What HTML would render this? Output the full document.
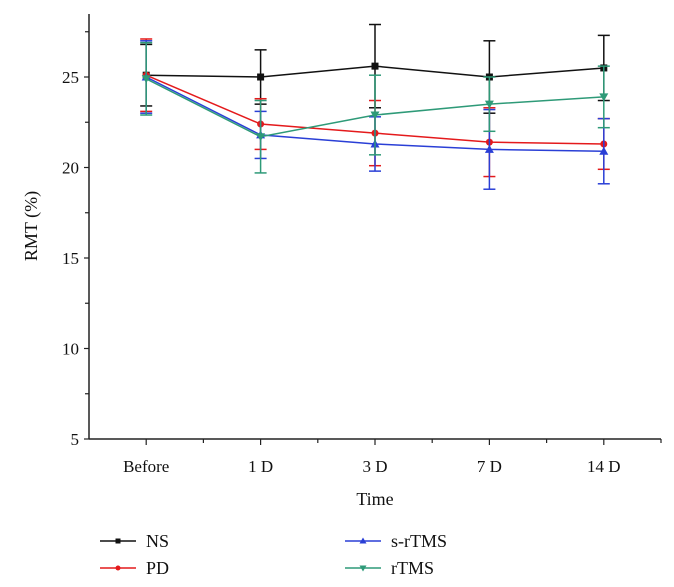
<!DOCTYPE html>
<html><head><meta charset="utf-8"><style>
body{margin:0;background:#fff}
svg{display:block;font-family:"Liberation Serif",serif}
</style></head><body>
<svg id="chart" width="674" height="587">
<g id="axes"></g><g id="series"></g><g id="legend"></g>
</svg>
<script>
const categories=["Before","1 D","3 D","7 D","14 D"];
const yTicks=[5,10,15,20,25];
const seriesNames=["NS","PD","s-rTMS","rTMS"];
const nsValues=[25.1,25.0,25.6,25.0,25.5];
const nsErr=[1.7,1.5,2.3,2.0,1.8];
const pdValues=[25.1,22.4,21.9,21.4,21.3];
const pdErr=[2.0,1.4,1.8,1.9,1.4];
const srtmsValues=[25.0,21.8,21.3,21.0,20.9];
const srtmsErr=[2.0,1.3,1.5,2.2,1.8];
const rtmsValues=[24.9,21.7,22.9,23.5,23.9];
const rtmsErr=[2.0,2.0,2.2,1.5,1.7];

const NS="http://www.w3.org/2000/svg";
const X0=89,X1=661,Y0=439,Ytop=14,VMIN=5,VMAX=25;
const yOf=v=>Y0-(v-VMIN)*(Y0-77)/(VMAX-VMIN);
const xOf=i=>X0+(i+0.5)*(X1-X0)/categories.length;
function mk(tag,attrs,parent){const e=document.createElementNS(NS,tag);for(const k in attrs)e.setAttribute(k,attrs[k]);parent.appendChild(e);return e;}
const axes=document.getElementById('axes'),ser=document.getElementById('series'),leg=document.getElementById('legend');

let a=mk('line',{x1:X0,y1:Ytop,x2:X0,y2:Y0,stroke:'#222','stroke-width':1.5},axes);


a=mk('line',{x1:X0,y1:Y0,x2:X1,y2:Y0,stroke:'#222','stroke-width':1.5},axes);


for(let v=VMIN;v<=27.5;v+=2.5){
  const major=yTicks.includes(v);
  mk('line',{x1:X0-(major?5:4),y1:yOf(v),x2:X0,y2:yOf(v),stroke:'#222','stroke-width':1.2},axes);
}
yTicks.forEach(v=>{const t=mk('text',{x:X0-10,y:yOf(v)+6,'text-anchor':'end','font-size':17,fill:'#111'},axes);t.textContent=v;

});
for(let i=0;i<=categories.length;i++){
  const xm=X0+i*(X1-X0)/categories.length;
  if(i>0) mk('line',{x1:xm,y1:Y0,x2:xm,y2:Y0+4,stroke:'#222','stroke-width':1.2},axes);
}
categories.forEach((c,i)=>{
  mk('line',{x1:xOf(i),y1:Y0,x2:xOf(i),y2:Y0+6,stroke:'#222','stroke-width':1.2},axes);
  const t=mk('text',{x:xOf(i),y:472,'text-anchor':'middle','font-size':17,fill:'#111'},axes);t.textContent=c;
  
  
});
let t=mk('text',{x:375,y:505,'text-anchor':'middle','font-size':18,fill:'#111'},axes);t.textContent='Time';


t=mk('text',{x:0,y:0,transform:'translate(37,226) rotate(-90)','text-anchor':'middle','font-size':18,fill:'#111'},axes);t.textContent='RMT (%)';



const colors=['#111','#e41a1c','#2a3fd6','#2e9a78'];
const allVals=[nsValues,pdValues,srtmsValues,rtmsValues];
const allErr=[nsErr,pdErr,srtmsErr,rtmsErr];
function marker(k,x,y,p,sz){
  if(k===0) mk('rect',{x:x-sz,y:y-sz,width:2*sz,height:2*sz,fill:colors[k]},p);
  else if(k===1) mk('circle',{cx:x,cy:y,r:sz,fill:colors[k]},p);
  else if(k===2) mk('polygon',{points:`${x},${y-sz-1} ${x-sz-1},${y+sz} ${x+sz+1},${y+sz}`,fill:colors[k]},p);
  else mk('polygon',{points:`${x},${y+sz+1} ${x-sz-1},${y-sz} ${x+sz+1},${y-sz}`,fill:colors[k]},p);
}
allVals.forEach((vals,k)=>{
  const g=mk('g',{},ser);
  
  
  vals.forEach((v,i)=>{
    const x=xOf(i),e=allErr[k][i];
    mk('line',{x1:x,y1:yOf(v+e),x2:x,y2:yOf(v-e),stroke:colors[k],'stroke-width':1.5},g);
    [v+e,v-e].forEach(w=>mk('line',{x1:x-6,y1:yOf(w),x2:x+6,y2:yOf(w),stroke:colors[k],'stroke-width':1.5},g));
  });
  mk('polyline',{points:vals.map((v,i)=>xOf(i)+','+yOf(v)).join(' '),fill:'none',stroke:colors[k],'stroke-width':1.5},g);
  vals.forEach((v,i)=>{marker(k,xOf(i),yOf(v),g,3.5);});
});

const legPos=[[100,541],[100,568],[345,541],[345,568]];
seriesNames.forEach((n,k)=>{
  const g=mk('g',{},leg);
  
  
  const [x,y]=legPos[k];
  mk('line',{x1:x,y1:y,x2:x+36,y2:y,stroke:colors[k],'stroke-width':1.5},g);
  marker(k,x+18,y,g,2.5);
  const tt=mk('text',{x:x+46,y:y+6,'font-size':18,fill:'#111'},g);tt.textContent=n;
});
</script>
</body></html>
